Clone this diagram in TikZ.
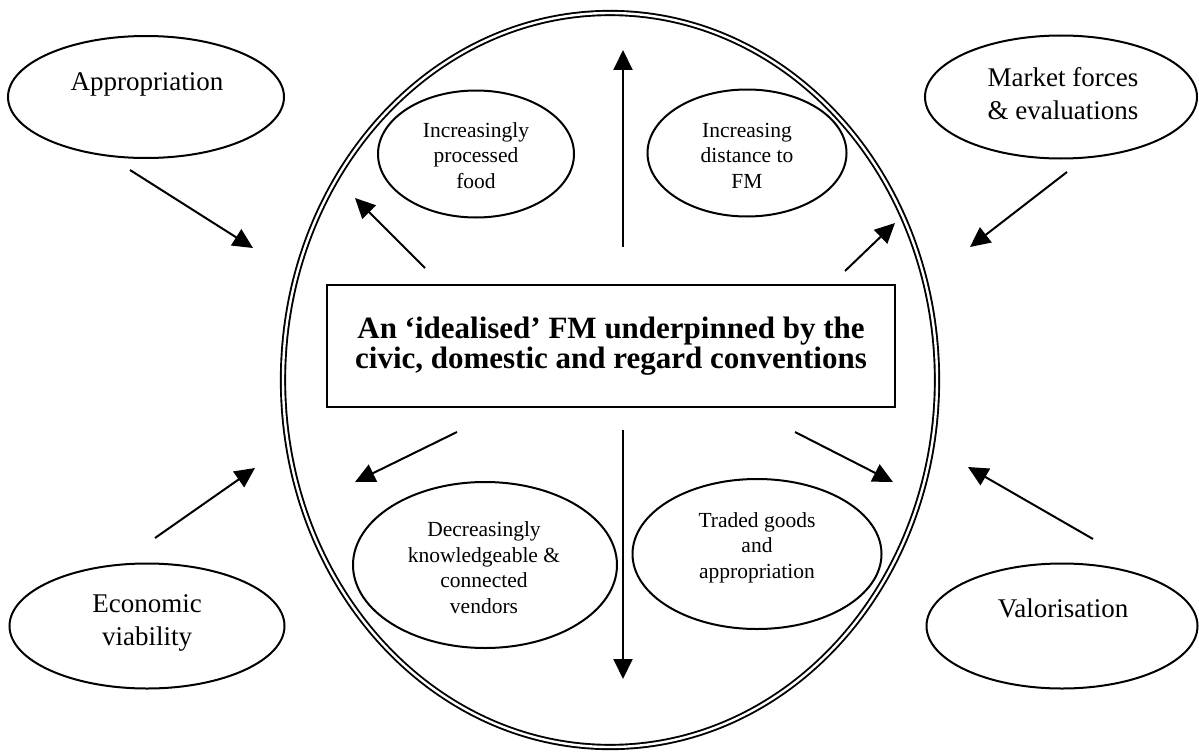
\documentclass[tikz,border=0pt]{standalone}
\usepackage{fontspec}
\setmainfont{Liberation Serif}
\usetikzlibrary{shapes.geometric,arrows.meta}

\tikzset{
  oval/.style={draw, ellipse, line width=2pt, inner sep=0pt},
  bigoval/.style={draw, ellipse, inner sep=0pt, line width=1.9pt, double, double distance=2.4pt},
  mainbox/.style={draw, rectangle, line width=2pt, inner sep=0pt},
  % labels are placed by the baseline of their last line
  outlbl/.style={align=center, anchor=base, inner sep=0pt, font=\fontsize{27}{33}\selectfont},
  inlbl/.style={align=center, anchor=base, inner sep=0pt, font=\fontsize{21.5}{25.5}\selectfont},
  boxlbl/.style={align=center, anchor=base, inner sep=0pt, font=\fontsize{31}{30}\selectfont\bfseries},
  flow/.style={line width=2pt, -{Triangle[length=20pt,width=19pt]}}
}

\begin{document}
\begin{tikzpicture}[x=1pt,y=-1pt]
\useasboundingbox (0,0) rectangle (1199,752);

% large central ellipse with double outline
\node[bigoval, minimum width=654pt, minimum height=734pt] (world) at (610,380) {};

% central box
\node[mainbox, minimum width=568pt, minimum height=122pt] (core) at (611,346) {};
\node[boxlbl] (coretxt) at (611,368) {An ‘idealised’ FM underpinned by the\\civic, domestic and regard conventions};

% inner ellipses
\node[oval, minimum width=196pt, minimum height=127pt] (proc) at (476,154) {};
\node[inlbl] (proctxt) at (476,188) {Increasingly\\processed\\food};

\node[oval, minimum width=199pt, minimum height=127pt] (dist) at (747,153) {};
\node[inlbl] (disttxt) at (747,188) {Increasing\\distance to\\FM};

\node[oval, minimum width=264pt, minimum height=166pt] (vend) at (485,565) {};
\node[inlbl] (vendtxt) at (484,613) {Decreasingly\\knowledgeable \&\\connected\\vendors};

\node[oval, minimum width=249pt, minimum height=150pt] (trade) at (757,554) {};
\node[inlbl] (tradetxt) at (757,578) {Traded goods\\and\\appropriation};

% outer ellipses
\node[oval, minimum width=276pt, minimum height=122pt] (appr) at (146,97) {};
\node[outlbl] (apprtxt) at (147,90) {Appropriation};

\node[oval, minimum width=272pt, minimum height=123pt] (mkt) at (1061,97) {};
\node[outlbl] (mkttxt) at (1063,119) {Market forces\\\& evaluations};

\node[oval, minimum width=275pt, minimum height=125pt] (econ) at (147,626) {};
\node[outlbl] (econtxt) at (147,645) {Economic\\viability};

\node[oval, minimum width=271pt, minimum height=125pt] (valo) at (1062,626) {};
\node[outlbl] (valotxt) at (1063,617) {Valorisation};

% arrow end points
\coordinate (upS) at (623,247);  \coordinate (upE) at (623,50);
\coordinate (dnS) at (623,430);  \coordinate (dnE) at (623,679);
\coordinate (ulS) at (425,268);  \coordinate (ulE) at (355,198);
\coordinate (urS) at (845,271);  \coordinate (urE) at (895,223);
\coordinate (llS) at (457,432);  \coordinate (llE) at (355,482);
\coordinate (lrS) at (795,432);  \coordinate (lrE) at (893,482);
\coordinate (aS) at (130,170);   \coordinate (aE) at (253,248);
\coordinate (mS) at (1067,172);  \coordinate (mE) at (970,247);
\coordinate (eS) at (155,538);   \coordinate (eE) at (255,468);
\coordinate (vS) at (1093,539);  \coordinate (vE) at (968,467);

\draw[flow] (upS) -- (upE);
\draw[flow] (dnS) -- (dnE);
\draw[flow] (ulS) -- (ulE);
\draw[flow] (urS) -- (urE);
\draw[flow] (llS) -- (llE);
\draw[flow] (lrS) -- (lrE);
\draw[flow] (aS) -- (aE);
\draw[flow] (mS) -- (mE);
\draw[flow] (eS) -- (eE);
\draw[flow] (vS) -- (vE);
\end{tikzpicture}
\end{document}
